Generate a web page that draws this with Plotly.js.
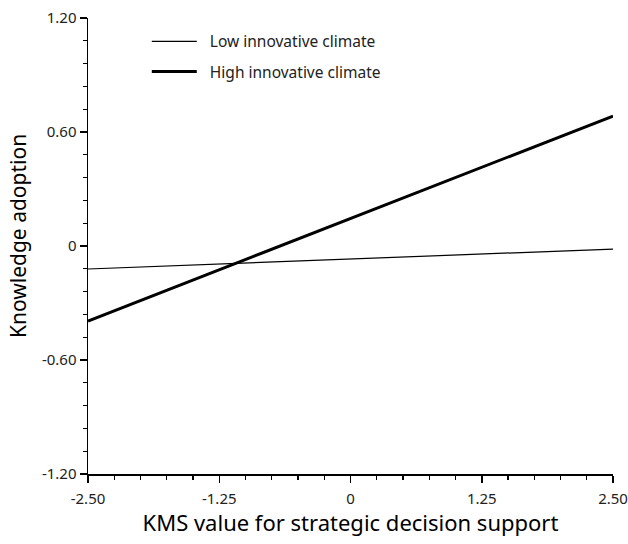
<!DOCTYPE html>
<html><head><meta charset="utf-8">
<script src="https://cdn.plot.ly/plotly-3.0.1.min.js"></script>
<style>body{margin:0;background:#fff}#c{width:628px;height:544px}</style>
</head><body><div id="c"></div>
<script>
const xVals = [-2.5, 2.5];
const lowClimate = [-0.121, -0.016];
const highClimate = [-0.395, 0.684];
const seriesNames = ["Low innovative climate", "High innovative climate"];
const xTickVals = [-2.5, -1.25, 0, 1.25, 2.5];
const xTickText = ["-2.50", "-1.25", "0", "1.25", "2.50"];
const yTickVals = [-1.2, -0.6, 0, 0.6, 1.2];
const yTickText = ["-1.20", "-0.60", "0", "0.60", "1.20"];
const xTitle = "KMS value for strategic decision support";
const yTitle = "Knowledge adoption";

const font = "Noto Sans, Open Sans, sans-serif";
const pad = "\u00a0\u00a0";
const data = [
  {x: xVals, y: lowClimate, mode: "lines", name: pad + seriesNames[0], legendgroup: "a",
   line: {color: "#000", width: 1.2}},
  {x: xVals, y: highClimate, mode: "lines", name: pad + seriesNames[1], legendgroup: "b",
   line: {color: "#000", width: 3}}
];
const layout = {
  width: 628, height: 544,
  margin: {l: 88, r: 15, t: 18, b: 70},
  paper_bgcolor: "#fff", plot_bgcolor: "#fff",
  font: {family: font, color: "#000", size: 13},
  showlegend: true,
  legend: {x: 0.112, y: 0.985, xanchor: "left", yanchor: "top", bgcolor: "rgba(0,0,0,0)",
           font: {size: 15.5, color: "#222"}, tracegroupgap: 7, itemwidth: 45},
  xaxis: {range: [-2.5, 2.5], tickvals: xTickVals, ticktext: xTickText,
          showgrid: false, zeroline: false, showline: true, linecolor: "#000", linewidth: 1.5,
          ticks: "outside", ticklen: 7, tickwidth: 1.5, tickcolor: "#000", ticklabelstandoff: 3,
          ticklabeloverflow: "allow",
          minor: {dtick: 0.25, tick0: 0, ticks: "outside", ticklen: 4, tickwidth: 1.2, tickcolor: "#000", showgrid: false},
          tickfont: {size: 15, color: "#222"},
          title: {text: xTitle, font: {size: 22}, standoff: 8}},
  yaxis: {range: [-1.2, 1.2], tickvals: yTickVals, ticktext: yTickText,
          showgrid: false, zeroline: false, showline: true, linecolor: "#000", linewidth: 1.5,
          ticks: "outside", ticklen: 7, tickwidth: 1.5, tickcolor: "#000",
          minor: {dtick: 0.12, tick0: 0, ticks: "outside", ticklen: 4, tickwidth: 1.2, tickcolor: "#000", showgrid: false},
          tickfont: {size: 15, color: "#222"}},
  annotations: [{text: yTitle, textangle: -90, xref: "paper", yref: "paper",
                 x: -0.1333, y: 0.522, xanchor: "center", yanchor: "middle", showarrow: false,
                 font: {size: 21, color: "#000"}}]
};
Plotly.newPlot("c", data, layout, {displayModeBar: false, staticPlot: true});
</script></body></html>
